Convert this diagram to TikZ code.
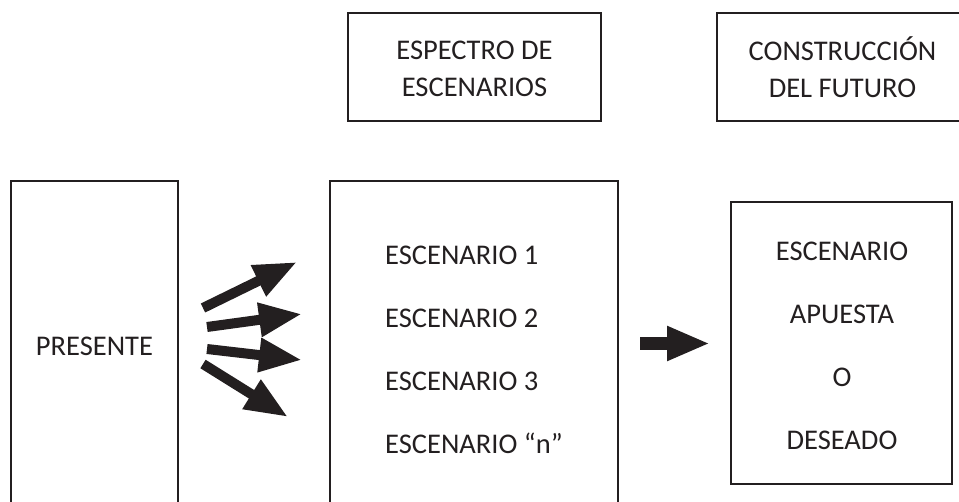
\documentclass[tikz,border=0pt]{standalone}
\usepackage{fontspec}
\setmainfont{Carlito}
\usetikzlibrary{arrows.meta}
\definecolor{ink}{HTML}{231F20}
\begin{document}
\begin{tikzpicture}[x=1pt,y=-1pt,
  frame/.style={draw=ink, line width=2.2pt, inner sep=0pt, outer sep=0pt},
  lbl/.style={text=ink, font=\fontsize{28.5}{34}\selectfont, inner sep=0pt, anchor=base},
  lblw/.style={lbl, anchor=base west},
  fan/.style={draw=ink, line width=10pt, -{Triangle[length=43pt,width=32pt]}},
  bigarrow/.style={draw=ink, line width=13.3pt, -{Triangle[length=43pt,width=32pt]}}]
\useasboundingbox (0,0) rectangle (959,502);
\clip (0,0) rectangle (959,502);
% boxes
\node[frame, minimum width=253pt, minimum height=108pt] (espectro) at (474.5,67) {};
\node[frame, minimum width=251pt, minimum height=108pt] (construccion) at (842.5,67) {};
\node[frame, minimum width=167pt, minimum height=331pt] (presente) at (94.5,346.5) {};
\node[frame, minimum width=288pt, minimum height=331pt] (espectrobox) at (474,346.5) {};
\node[frame, minimum width=221pt, minimum height=282pt] (deseado) at (841.5,343) {};
% texts
\node[lbl] (t1) at (474.5,60) {ESPECTRO DE};
\node[lbl] (t2) at (474.5,96.5) {ESCENARIOS};
\node[lbl] (t3) at (842.5,61) {CONSTRUCCIÓN};
\node[lbl] (t4) at (842.5,97.5) {DEL FUTURO};
\node[lbl] (pres) at (94.5,356) {PRESENTE};
\node[lblw] (e1) at (385,265) {ESCENARIO 1};
\node[lblw] (e2) at (385,328) {ESCENARIO 2};
\node[lblw] (e3) at (385,391) {ESCENARIO 3};
\node[lblw] (e4) at (385,454) {ESCENARIO “n”};
\node[lbl] (d1) at (842,261) {ESCENARIO};
\node[lbl] (d2) at (842,324) {APUESTA};
\node[lbl] (d3) at (842,387) {O};
\node[lbl] (d4) at (842,450) {DESEADO};
% arrow coordinates
\coordinate (s1) at (203,308); \coordinate (f1) at (297,262);
\coordinate (s2) at (207,327); \coordinate (f2) at (302,314);
\coordinate (s3) at (207,349); \coordinate (f3) at (302,360);
\coordinate (s4) at (203,364); \coordinate (f4) at (288,417);
\coordinate (s5) at (640,343.5); \coordinate (f5) at (710,343.5);
\draw[fan] (s1) -- (f1);
\draw[fan] (s2) -- (f2);
\draw[fan] (s3) -- (f3);
\draw[fan] (s4) -- (f4);
\draw[bigarrow] (s5) -- (f5);
\end{tikzpicture}
\end{document}
